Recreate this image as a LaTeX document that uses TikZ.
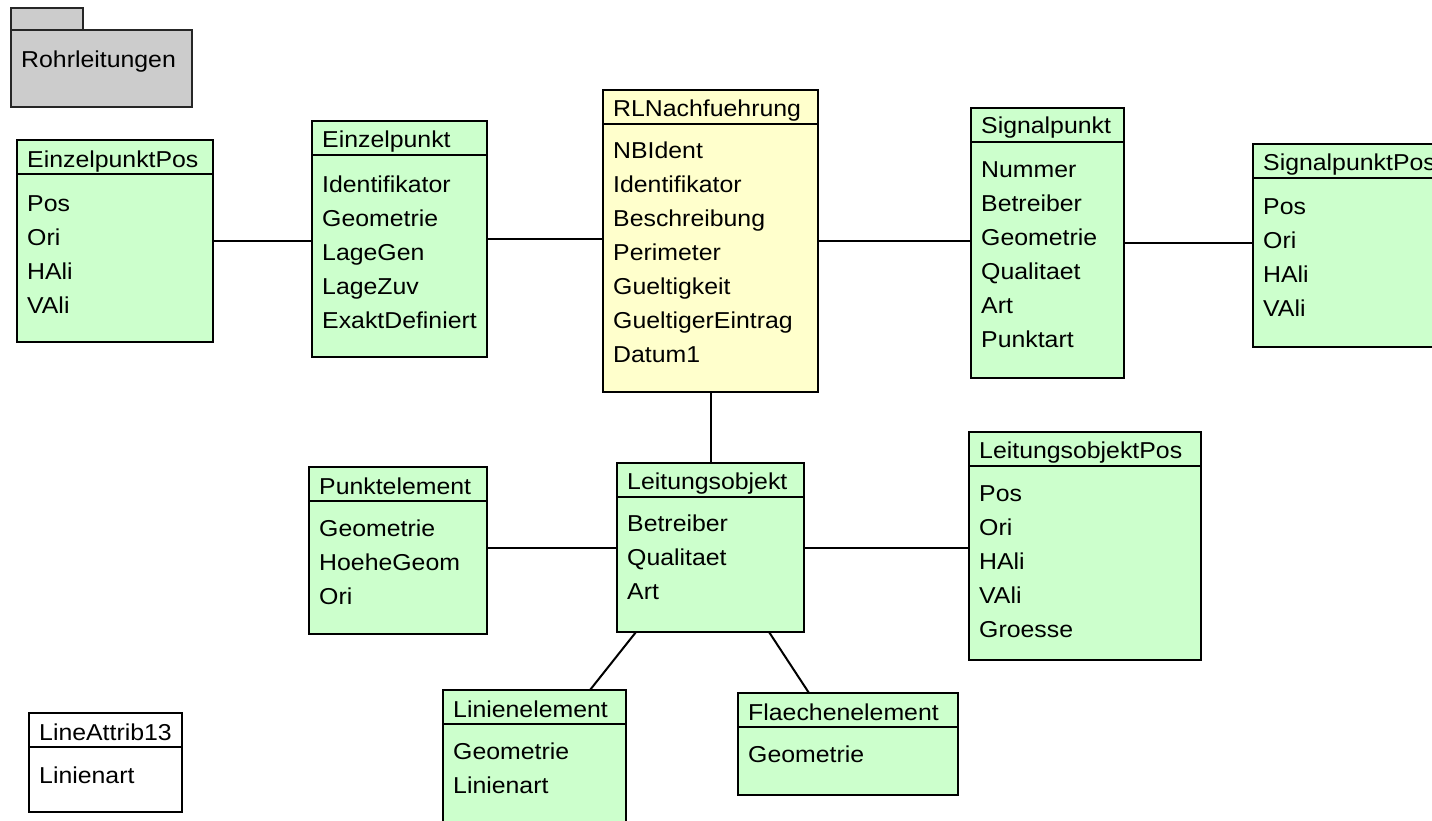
\documentclass[tikz,border=0pt]{standalone}
\usepackage{fontspec}
\setmainfont[FakeStretch=1.08]{Liberation Sans}
\definecolor{ccffcc}{rgb}{0.8,1,0.8}
\definecolor{ffffcc}{rgb}{1,1,0.8}
\definecolor{cccccc}{rgb}{0.8,0.8,0.8}
\tikzset{
	klasse/.style={draw,line width=2pt,fill=ccffcc,anchor=north west,inner sep=0pt,outer sep=0pt},
	paket/.style={draw=black!85,line width=1.6pt,fill=cccccc,anchor=north west,inner sep=0pt,outer sep=0pt},
	kopf/.style={anchor=base west,inner sep=0pt},
	attr/.style={anchor=north west,inner sep=0pt,align=left},
	trenn/.style={line width=2pt},
	verb/.style={line width=2pt}
}
\begin{document}
\begin{tikzpicture}[line cap=butt,line join=miter,x=1pt,y=-1pt,font=\fontsize{23}{34}\selectfont]
		\useasboundingbox (0,0) rectangle (1432,821);
		\clip (0,0) rectangle (1432,821);
		% Paket
		\node[paket,minimum width=72pt,minimum height=22pt] (pkgtab) at (11,8) {};
		\node[paket,minimum width=181pt,minimum height=77pt] (pkg) at (11,30) {};
		\node[kopf] at ([shift={(10pt,-38pt)}]pkg.north west) {Rohrleitungen};
		% EinzelpunktPos
		\node[klasse,minimum width=196pt,minimum height=202pt] (ezpos) at (17,140) {};
		\draw[trenn] ([yshift=-34pt]ezpos.north west) -- ([yshift=-34pt]ezpos.north east);
		\node[kopf] at ([shift={(10pt,-28pt)}]ezpos.north west) {EinzelpunktPos};
		\node[attr] at ([shift={(10pt,-47pt)}]ezpos.north west) {\strut Pos\\Ori\\HAli\\VAli};
		% Einzelpunkt
		\node[klasse,minimum width=175pt,minimum height=236pt] (ezp) at (312,121) {};
		\draw[trenn] ([yshift=-34pt]ezp.north west) -- ([yshift=-34pt]ezp.north east);
		\node[kopf] at ([shift={(10pt,-27pt)}]ezp.north west) {Einzelpunkt};
		\node[attr] at ([shift={(10pt,-47pt)}]ezp.north west) {\strut Identifikator\\Geometrie\\LageGen\\LageZuv\\ExaktDefiniert};
		% RLNachfuehrung
		\node[klasse,fill=ffffcc,minimum width=215pt,minimum height=302pt] (rln) at (603,90) {};
		\draw[trenn] ([yshift=-34pt]rln.north west) -- ([yshift=-34pt]rln.north east);
		\node[kopf] at ([shift={(10pt,-27pt)}]rln.north west) {RLNachfuehrung};
		\node[attr] at ([shift={(10pt,-44pt)}]rln.north west) {\strut NBIdent\\Identifikator\\Beschreibung\\Perimeter\\Gueltigkeit\\GueltigerEintrag\\Datum1};
		% Signalpunkt
		\node[klasse,minimum width=153pt,minimum height=270pt] (sp) at (971,108) {};
		\draw[trenn] ([yshift=-34pt]sp.north west) -- ([yshift=-34pt]sp.north east);
		\node[kopf] at ([shift={(10pt,-26pt)}]sp.north west) {Signalpunkt};
		\node[attr] at ([shift={(10pt,-45pt)}]sp.north west) {\strut Nummer\\Betreiber\\Geometrie\\Qualitaet\\Art\\Punktart};
		% SignalpunktPos
		\node[klasse,minimum width=200pt,minimum height=203pt] (spp) at (1253,144) {};
		\draw[trenn] ([yshift=-34pt]spp.north west) -- ([yshift=-34pt]spp.north east);
		\node[kopf] at ([shift={(10pt,-27pt)}]spp.north west) {SignalpunktPos};
		\node[attr] at ([shift={(10pt,-46pt)}]spp.north west) {\strut Pos\\Ori\\HAli\\VAli};
		% Punktelement
		\node[klasse,minimum width=178pt,minimum height=167pt] (pe) at (309,467) {};
		\draw[trenn] ([yshift=-34pt]pe.north west) -- ([yshift=-34pt]pe.north east);
		\node[kopf] at ([shift={(10pt,-27pt)}]pe.north west) {Punktelement};
		\node[attr] at ([shift={(10pt,-45pt)}]pe.north west) {\strut Geometrie\\HoeheGeom\\Ori};
		% Leitungsobjekt
		\node[klasse,minimum width=187pt,minimum height=169pt] (lo) at (617,463) {};
		\draw[trenn] ([yshift=-34pt]lo.north west) -- ([yshift=-34pt]lo.north east);
		\node[kopf] at ([shift={(10pt,-26pt)}]lo.north west) {Leitungsobjekt};
		\node[attr] at ([shift={(10pt,-44pt)}]lo.north west) {\strut Betreiber\\Qualitaet\\Art};
		% LeitungsobjektPos
		\node[klasse,minimum width=232pt,minimum height=228pt] (lop) at (969,432) {};
		\draw[trenn] ([yshift=-34pt]lop.north west) -- ([yshift=-34pt]lop.north east);
		\node[kopf] at ([shift={(10pt,-26pt)}]lop.north west) {LeitungsobjektPos};
		\node[attr] at ([shift={(10pt,-45pt)}]lop.north west) {\strut Pos\\Ori\\HAli\\VAli\\Groesse};
		% Linienelement
		\node[klasse,minimum width=183pt,minimum height=160pt] (le) at (443,690) {};
		\draw[trenn] ([yshift=-34pt]le.north west) -- ([yshift=-34pt]le.north east);
		\node[kopf] at ([shift={(10pt,-27pt)}]le.north west) {Linienelement};
		\node[attr] at ([shift={(10pt,-45pt)}]le.north west) {\strut Geometrie\\Linienart};
		% Flaechenelement
		\node[klasse,minimum width=220pt,minimum height=102pt] (fe) at (738,693) {};
		\draw[trenn] ([yshift=-34pt]fe.north west) -- ([yshift=-34pt]fe.north east);
		\node[kopf] at ([shift={(10pt,-27pt)}]fe.north west) {Flaechenelement};
		\node[attr] at ([shift={(10pt,-45pt)}]fe.north west) {\strut Geometrie};
		% LineAttrib13
		\node[klasse,fill=white,minimum width=153pt,minimum height=99pt] (la) at (29,713) {};
		\draw[trenn] ([yshift=-34pt]la.north west) -- ([yshift=-34pt]la.north east);
		\node[kopf] at ([shift={(10pt,-27pt)}]la.north west) {LineAttrib13};
		\node[attr] at ([shift={(10pt,-46pt)}]la.north west) {\strut Linienart};
		% Verbindungen
		\draw[verb] (ezpos.east) -- (ezpos.east -| ezp.west);
		\draw[verb] (ezp.east) -- (ezp.east -| rln.west);
		\draw[verb] (rln.east) -- (rln.east -| sp.west);
		\draw[verb] (sp.east) -- (sp.east -| spp.west);
		\draw[verb] (rln.south) -- (lo.north);
		\draw[verb] (pe.east |- lo.west) -- (lo.west);
		\draw[verb] (lo.east) -- (lo.east -| lop.west);
		\draw[verb] ([xshift=19pt]lo.south west) -- ([xshift=147pt]le.north west);
		\draw[verb] ([xshift=152pt]lo.south west) -- ([xshift=71pt]fe.north west);
	\end{tikzpicture}
\end{document}
